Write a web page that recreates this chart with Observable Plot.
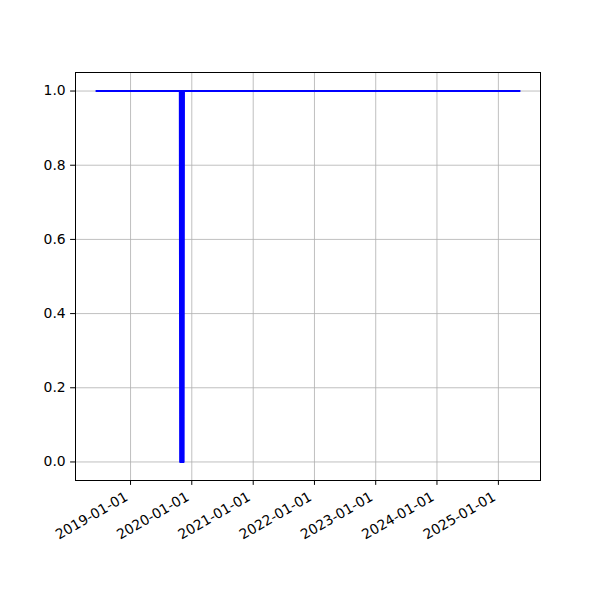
<!DOCTYPE html>
<html>
<head>
<meta charset="utf-8">
<script src="https://cdn.jsdelivr.net/npm/d3@7"></script>
<script src="https://cdn.jsdelivr.net/npm/@observablehq/plot@0.6"></script>
<style>
  body { margin: 0; background: #fff; }
  #chart { width: 600px; height: 600px; }
</style>
</head>
<body>
<div id="chart"></div>
<script>
// Series: dates and 0/1 values
const dates = [
  "2018-06-13", "2019-10-22",
  "2019-10-24", "2019-10-26", "2019-10-28", "2019-10-30", "2019-11-01",
  "2019-11-03", "2019-11-05", "2019-11-07", "2019-11-09", "2019-11-11",
  "2019-11-13", "2019-11-15",
  "2025-05-06"
];
const values = [
  1, 1,
  0, 1, 0, 1, 0,
  1, 0, 1, 0, 1,
  0, 1,
  1
];
const yTicks = [0.0, 0.2, 0.4, 0.6, 0.8, 1.0];
const xTickDates = ["2019-01-01", "2020-01-01", "2021-01-01", "2022-01-01", "2023-01-01", "2024-01-01", "2025-01-01"];

const data = dates.map((d, i) => ({date: new Date(d + "T00:00:00Z"), value: values[i]}));
const xt = xTickDates.map(d => new Date(d + "T00:00:00Z"));

const ext = d3.extent(data, d => d.date);
const pad = (ext[1] - ext[0]) * 0.05;
const xDomain = [new Date(+ext[0] - pad), new Date(+ext[1] + pad)];

const font = "DejaVu Sans, sans-serif";
const fmt = d3.utcFormat("%Y-%m-%d");

const chart = Plot.plot({
  width: 600,
  height: 600,
  marginLeft: 75,
  marginRight: 60,
  marginTop: 72,
  marginBottom: 120,
  style: {fontFamily: font, fontSize: "13.9px", color: "black", background: "white"},
  x: {type: "utc", domain: xDomain},
  y: {domain: [-0.05, 1.05]},
  marks: [
    Plot.gridX(xt, {stroke: "#b0b0b0", strokeOpacity: 1, strokeWidth: 0.8}),
    Plot.gridY(yTicks, {stroke: "#b0b0b0", strokeOpacity: 1, strokeWidth: 0.8}),
    Plot.line(data, {x: "date", y: "value", stroke: "#0000ff", strokeWidth: 2.1, strokeLinecap: "square", curve: "linear"}),
    Plot.frame({stroke: "black", strokeWidth: 1}),
    Plot.axisY({ticks: yTicks, tickFormat: d3.format(".1f"), tickSize: 4.9, tickPadding: 4.9, label: null, stroke: "black"}),
    Plot.axisX({ticks: xt, tickFormat: null, text: null, tickSize: 4.9, label: null, stroke: "black"}),
    Plot.text(xt, {x: d => d, text: d => fmt(d), frameAnchor: "bottom", dx: -1.7, dy: 19, rotate: -30, textAnchor: "end", lineAnchor: "bottom", fill: "black", fontSize: 13.9})
  ]
});
document.getElementById("chart").appendChild(chart);
</script>
</body>
</html>
